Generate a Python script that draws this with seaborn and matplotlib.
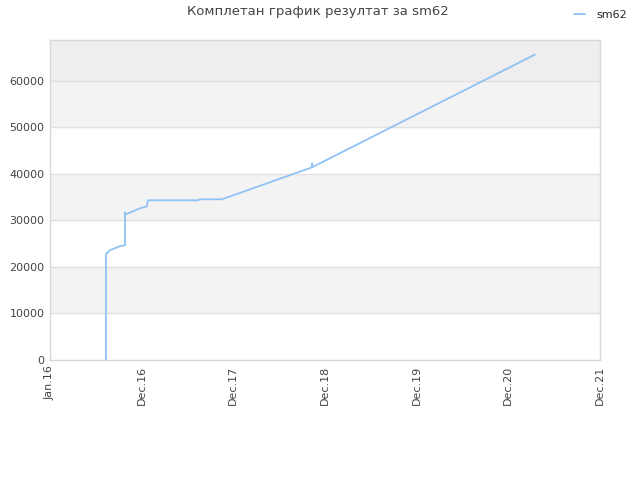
import numpy as np
import pandas as pd
import matplotlib
matplotlib.use("Agg")
import matplotlib.pyplot as plt
import seaborn as sns

# x in years since Jan.16 (tick positions are evenly spaced), y = score
x_vals = [0.611, 0.611, 0.622, 0.655, 0.709, 0.764, 0.818, 0.818, 0.829, 0.982,
          1.058, 1.069, 1.615, 1.636, 1.876, 2.858, 2.860, 2.862, 5.291]
y_vals = [0, 22714, 22929, 23571, 24000, 24429, 24643, 31714, 31286, 32571,
          33000, 34286, 34286, 34500, 34500, 41357, 42214, 41400, 65571]
tick_labels = ["Jan.16", "Dec.16", "Dec.17", "Dec.18", "Dec.19", "Dec.20", "Dec.21"]
y_ticks = [0, 10000, 20000, 30000, 40000, 50000, 60000]

df = pd.DataFrame({"x": x_vals, "score": y_vals, "player": "sm62"})

sns.set_style("white")
plt.rcParams["font.family"] = ["DejaVu Sans"]

fig = plt.figure(figsize=(6.4, 4.8), dpi=100)
ax = fig.add_axes([0.078, 0.25, 0.8595, 0.6667])

line_color = "#90c3f5"
sns.lineplot(data=df, x="x", y="score", sort=False, estimator=None,
             color=line_color, lw=1.3, ax=ax, label="sm62", legend=False)

y_top = 68700
# alternating background bands
edges = y_ticks + [y_top]
for i in range(len(edges) - 1):
    if i % 2 == 1:
        ax.axhspan(edges[i], edges[i + 1], color="#f3f3f3", zorder=0, lw=0)
ax.axhspan(60000, y_top, color="#eeeeee", zorder=0, lw=0)
for yt in y_ticks[1:]:
    ax.axhline(yt, color="#e0e0e0", lw=1, zorder=1)

ax.set_xlim(0, 6)
ax.set_ylim(0, y_top)
ax.set_xticks(range(7))
ax.set_xticklabels(tick_labels, rotation=90, fontsize=8, color="#444444")
ax.set_yticks(y_ticks)
ax.set_yticklabels([str(v) for v in y_ticks], fontsize=8, color="#444444")
ax.tick_params(length=0, pad=4)
ax.set_xlabel("")
ax.set_ylabel("")
for sp in ax.spines.values():
    sp.set_color("#d8d8d8")
    sp.set_linewidth(1)

fig.text(0.497, 0.975, "Комплетан график резултат за sm62", ha="center", va="center",
         fontsize=9.5, color="#444444")
handles, labels = ax.get_legend_handles_labels()
fig.legend(handles, labels, loc="upper right", bbox_to_anchor=(0.995, 1.0), frameon=False,
           fontsize=8, handlelength=1.0, handletextpad=1.0)

plt.savefig("out.png", dpi=100)
